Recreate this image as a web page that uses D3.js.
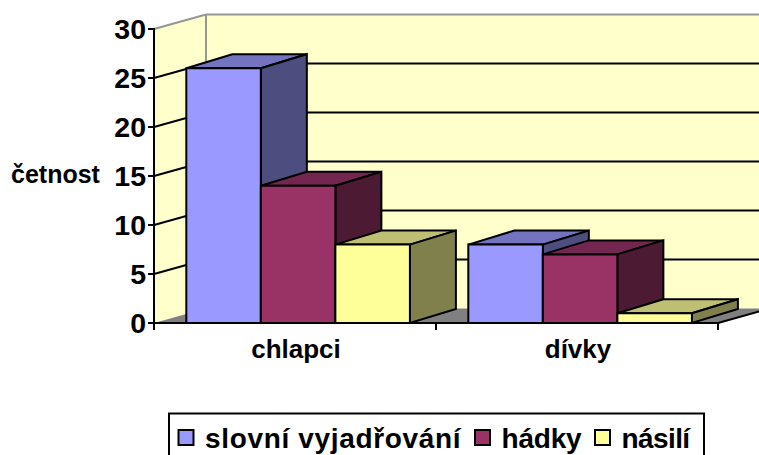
<!DOCTYPE html>
<html><head><meta charset="utf-8">
<script src="https://cdn.jsdelivr.net/npm/d3@7"></script>
<style>html,body{margin:0;padding:0;background:#fff;overflow:hidden}svg{display:block}text{font-family:"Liberation Sans",Arial,sans-serif;font-weight:bold;fill:#000}</style>
</head><body><svg id="c" width="759" height="455"></svg>
<script>
const categories = ["chlapci", "dívky"];
const seriesNames = ["slovní vyjadřování", "hádky", "násilí"];
const slovni = [26, 8];
const hadky = [14, 7];
const nasili = [8, 1];
const seriesValues = [slovni, hadky, nasili];
const yTicks = [0, 5, 10, 15, 20, 25, 30];
const colors = ["#9999FF", "#993366", "#FFFF99"];
const topColors = ["#7373BF", "#732650", "#BFBF73"];
const sideColors = ["#4D4D80", "#4D1A33", "#80804D"];

const svg = d3.select("#c");
const y = d3.scaleLinear().domain([0, 30]).range([323, 29]);
const x0 = d3.scaleBand().domain(categories).range([154, 718]);
const x1 = d3.scaleBand().domain(d3.range(3)).range([32.3, 255.9]);
const wallDx = 52, wallDy = 14.5, barDx = 46, barDy = 14;
const right = 718 + wallDx;
const poly = (pts, fill, stroke, sw) => svg.append("polygon")
  .attr("points", pts.map(p => p.join(",")).join(" "))
  .attr("fill", fill).attr("stroke", stroke || "none").attr("stroke-width", sw || 0)
  .attr("stroke-linejoin", "miter");
const line = (a, b, c, w) => svg.append("line").attr("x1", a[0]).attr("y1", a[1]).attr("x2", b[0]).attr("y2", b[1])
  .attr("stroke", c).attr("stroke-width", w);

// walls and floor
const L = 154;
poly([[L, y(30)], [L + wallDx, y(30) - wallDy], [L + wallDx, y(0) - wallDy], [L, y(0)]], "#FFFFCC");
poly([[L + wallDx, y(30) - wallDy], [right, y(30) - wallDy], [right, y(0) - wallDy], [L + wallDx, y(0) - wallDy]], "#FFFFCC");
poly([[L, y(0)], [L + wallDx, y(0) - wallDy], [right, y(0) - wallDy], [718, y(0)]], "#808080");

// gridlines
yTicks.filter(t => t > 0).forEach(t => {
  const c = t === 30 ? "#969696" : "#000";
  line([L, y(t)], [L + wallDx, y(t) - wallDy], c, 2);
  line([L + wallDx, y(t) - wallDy], [right, y(t) - wallDy], c, 2);
});
line([L + wallDx, y(30) - wallDy], [L + wallDx, y(0) - wallDy], "#969696", 2);

// axes
line([L, y(30) - 1], [L, y(0) + 1], "#000", 2);
line([L, y(0)], [718, y(0)], "#000", 2);
line([718, y(0)], [right, y(0) - wallDy], "#000", 2);
yTicks.forEach(t => line([L - 6, y(t)], [L, y(t)], "#000", 2));
[0, 1, 2].forEach(i => {
  const tx = L + i * x0.step();
  line([tx, y(0)], [tx, y(0) + 7], "#000", 2);
});

// bars
categories.forEach((cat, ci) => {
  seriesValues.forEach((vals, si) => {
    const xa = x0(cat) + x1(si), xb = xa + x1.bandwidth();
    const yt = y(vals[ci]), yb = y(0);
    poly([[xa, yt], [xa + barDx, yt - barDy], [xb + barDx, yt - barDy], [xb, yt]], topColors[si], "#000", 2);
    poly([[xb, yt], [xb + barDx, yt - barDy], [xb + barDx, yb - barDy], [xb, yb]], sideColors[si], "#000", 2);
    poly([[xa, yt], [xb, yt], [xb, yb], [xa, yb]], colors[si], "#000", 2);
  });
});

// tick labels
yTicks.forEach(t => svg.append("text").attr("x", 146).attr("y", y(t) + 10)
  .attr("text-anchor", "end").attr("font-size", 28.5).text(t));
categories.forEach(cat => svg.append("text").attr("x", x0(cat) + x0.bandwidth() / 2 + 1).attr("y", 358)
  .attr("text-anchor", "middle").attr("font-size", 26).text(cat));
svg.append("text").attr("x", 11).attr("y", 183).attr("font-size", 25).text("četnost");

// legend
svg.append("rect").attr("x", 169).attr("y", 413.5).attr("width", 535).attr("height", 50)
  .attr("fill", "#fff").attr("stroke", "#000").attr("stroke-width", 2);
const legendSwatch = [178.5, 475, 595], legendText = [205, 501.5, 621.5], legendSpacing = [0.66, -0.2, -0.6];
seriesNames.forEach((n, i) => {
  svg.append("rect").attr("x", legendSwatch[i]).attr("y", 430).attr("width", 15).attr("height", 15)
    .attr("fill", colors[i]).attr("stroke", "#000").attr("stroke-width", 2);
  svg.append("text").attr("x", legendText[i]).attr("y", 447.5).attr("font-size", 28)
    .attr("letter-spacing", legendSpacing[i]).text(n);
});
</script></body></html>
